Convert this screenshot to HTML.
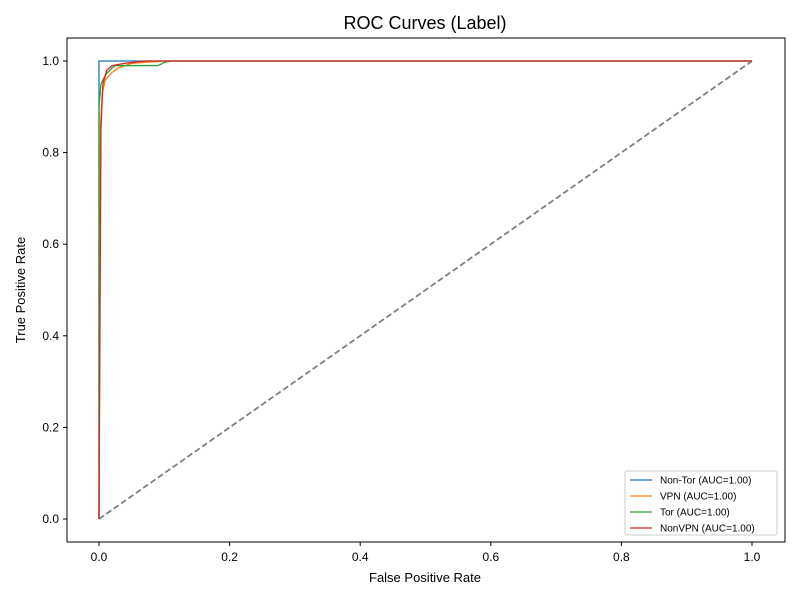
<!DOCTYPE html>
<html><head><meta charset="utf-8"><style>
body{margin:0;background:#fff;font-family:"Liberation Sans","DejaVu Sans",sans-serif}
</style></head><body>
<svg id="c" width="800" height="600" xmlns="http://www.w3.org/2000/svg">
<rect width="800" height="600" fill="#fff"/>
<text x="425" y="29" text-anchor="middle" font-size="18">ROC Curves (Label)</text>
<g id="ticks"></g>
<g id="series"></g>
<rect x="67" y="38" width="718" height="504" fill="none" stroke="#000" stroke-width="1"/>
<text x="425" y="582" text-anchor="middle" font-size="13">False Positive Rate</text>
<text x="25" y="290" text-anchor="middle" font-size="13" transform="rotate(-90 25 290)">True Positive Rate</text>
<g id="legend"></g>
</svg>
<script>
const xTicks=[0,0.2,0.4,0.6,0.8,1.0];
const yTicks=[0,0.2,0.4,0.6,0.8,1.0];
const seriesNames=["Non-Tor (AUC=1.00)","VPN (AUC=1.00)","Tor (AUC=1.00)","NonVPN (AUC=1.00)"];
const seriesColors=["#1f77b4","#ff7f0e","#2ca02c","#d62728"];
const nonTorFpr=[0,0,1];
const nonTorTpr=[0,1,1];
const vpnFpr=[0,0.002,0.005,0.01,0.02,0.03,0.05,0.1,1];
const vpnTpr=[0,0.85,0.93,0.96,0.975,0.985,0.995,1,1];
const torFpr=[0,0,0.003,0.01,0.02,0.025,0.09,0.095,0.1,0.11,1];
const torTpr=[0,0.9,0.95,0.97,0.985,0.99,0.99,0.993,0.997,1,1];
const nonVpnFpr=[0,0.003,0.006,0.012,0.02,0.04,0.07,1];
const nonVpnTpr=[0,0.85,0.95,0.98,0.99,0.995,1,1];
const NS="http://www.w3.org/2000/svg";
const X=v=>99+v*653, Y=v=>519-v*458;
function mk(t,a,p){const e=document.createElementNS(NS,t);for(const k in a)e.setAttribute(k,a[k]);p.appendChild(e);return e;}
const tg=document.getElementById('ticks');
xTicks.forEach(v=>{
 const l=mk('line',{x1:X(v),x2:X(v),y1:542,y2:546,stroke:'#000'},tg);
 
 
 const t=mk('text',{x:X(v),y:561,'text-anchor':'middle','font-size':12},tg);t.textContent=v.toFixed(1);
 
 
});
yTicks.forEach(v=>{
 const l=mk('line',{x1:63,x2:67,y1:Y(v),y2:Y(v),stroke:'#000'},tg);
 
 
 const t=mk('text',{x:59,y:Y(v)+4,'text-anchor':'end','font-size':12},tg);t.textContent=v.toFixed(1);
 
 
});
const sg=document.getElementById('series');
const d=mk('line',{x1:X(0),y1:Y(0),x2:X(1),y2:Y(1),stroke:'#808080','stroke-width':1.8,'stroke-dasharray':'6,3'},sg);


const data=[[nonTorFpr,nonTorTpr],[vpnFpr,vpnTpr],[torFpr,torTpr],[nonVpnFpr,nonVpnTpr]];
const names=['non-tor-curve','vpn-curve','tor-curve','nonvpn-curve'];
data.forEach((s,i)=>{
 const pts=s[0].map((x,j)=>X(x)+','+Y(s[1][j])).join(' ');
 const p=mk('polyline',{points:pts,fill:'none',stroke:seriesColors[i],'stroke-width':1.3},sg);
 
 
});
const lg=document.getElementById('legend');
const box=mk('rect',{x:625,y:471,width:152,height:64,fill:'#fff',stroke:'#ccc',rx:2},lg);


seriesNames.forEach((n,i)=>{
 const y=480+i*16;
 const l=mk('line',{x1:630,x2:652,y1:y,y2:y,stroke:seriesColors[i],'stroke-width':1.3},lg);
 
 
 const t=mk('text',{x:660,y:y+3.5,'font-size':10},lg);t.textContent=n;
 
 
});
</script>
</body></html>
